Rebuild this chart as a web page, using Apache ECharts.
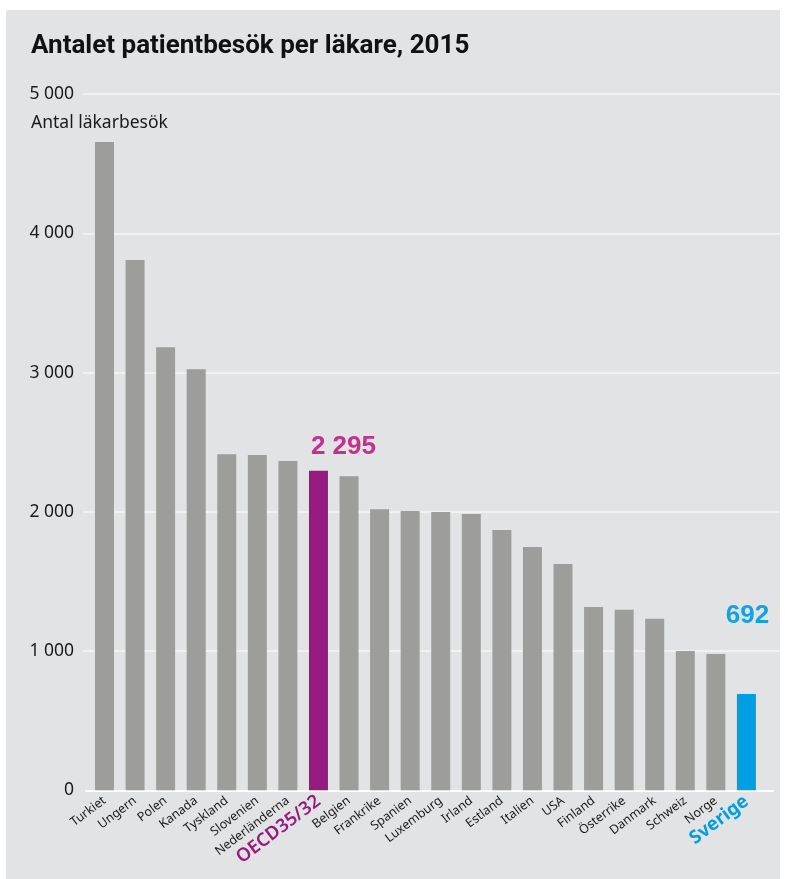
<!DOCTYPE html>
<html><head><meta charset="utf-8">
<script src="https://cdn.jsdelivr.net/npm/echarts@6/dist/echarts.min.js"></script>
<style>
html,body{margin:0;padding:0;background:#ffffff;width:785px;height:879px;overflow:hidden}
#c{position:absolute;left:6px;top:10px;width:774px;height:869px;}
</style>
</head><body><div id="c"></div>
<script>
const titleText = 'Antalet patientbesök per läkare, 2015';
const axisTitle = 'Antal läkarbesök';
const categories = ['Turkiet','Ungern','Polen','Kanada','Tyskland','Slovenien','Nederländerna','OECD35/32','Belgien','Frankrike','Spanien','Luxemburg','Irland','Estland','Italien','USA','Finland','Österrike','Danmark','Schweiz','Norge','Sverige'];
const values = [4655,3808,3182,3024,2414,2407,2364,2295,2256,2019,2005,1998,1984,1869,1747,1625,1317,1296,1231,1000,979,692];
const yTicks = [0,1000,2000,3000,4000,5000];
const yTickLabels = ['0','1 000','2 000','3 000','4 000','5 000'];
const oecdName = 'OECD35/32';
const swedenName = 'Sverige';
const valueLabels = {'OECD35/32':'2 295','Sverige':'692'};

const GRAY = '#9d9d9b', PURPLE = '#951b81', BLUE = '#009fe3';
const LBL_PURPLE = '#c4318d', LBL_BLUE = '#12a3e2';
const FONT = '"Noto Sans", sans-serif';

const chart = echarts.init(document.getElementById('c'), null, {renderer:'canvas'});
const gTop = 84, gBottom = 88.7;

const barData = values.map((v,i) => {
  const name = categories[i];
  const item = {value: v, name: name};
  if (name === oecdName) {
    item.itemStyle = {color: PURPLE};
    item.label = {show:true, position:'top', offset:[25,-6], formatter: valueLabels[name],
      color: LBL_PURPLE, fontSize: 26, fontWeight:'bold', fontFamily:'"Liberation Sans", sans-serif'};
  } else if (name === swedenName) {
    item.itemStyle = {color: BLUE};
    item.label = {show:true, position:'top', offset:[1,-60], formatter: valueLabels[name],
      color: LBL_BLUE, fontSize: 26, fontWeight:'bold', fontFamily:'"Liberation Sans", sans-serif'};
  }
  return item;
});

const option = {
  backgroundColor: '#e2e3e5',
  animation: false,
  title: [
    {text: titleText, left: 20, top: 18,
     textStyle:{fontFamily:'Roboto, sans-serif', fontWeight:'bold', fontSize:26, color:'#111'}},
    {text: axisTitle, left: 20, top: 99,
     textStyle:{fontFamily:FONT, fontWeight:'normal', fontSize:17.5, color:'#1a1a1a'}}
  ],
  grid: [
    {left: 77, right: 0, top: gTop, bottom: gBottom},
    {left: 83.2, width: 672.5, top: gTop, bottom: gBottom},
    {left: 80, width: 687, top: gTop, bottom: gBottom}
  ],
  xAxis: [
    {gridIndex:0, type:'value', min:0, max:1, show:false},
    {gridIndex:1, type:'category', data: categories,
     axisLine:{show:false}, axisTick:{show:false},
     axisLabel:{interval:0, rotate:37, margin:9, fontFamily:FONT, fontSize:12.5, color:'#1a1a1a',
       formatter: (n) => n === oecdName ? '{o|' + n + '}' : (n === swedenName ? '{s|' + n + '}' : n),
       rich:{
         o:{color:PURPLE, fontSize:18.5, fontWeight:600, fontFamily:FONT},
         s:{color:BLUE, fontSize:18.5, fontWeight:'bold', fontFamily:FONT}
       }}},
    {gridIndex:2, type:'value', min:0, max:1,
     axisLine:{show:true, lineStyle:{color:'#ffffff', width:2}},
     axisTick:{show:false}, axisLabel:{show:false}, splitLine:{show:false}}
  ],
  yAxis: [
    {gridIndex:0, type:'value', min:yTicks[0], max:yTicks[yTicks.length-1], interval:yTicks[1]-yTicks[0],
     axisLine:{show:false}, axisTick:{show:false},
     axisLabel:{margin:9, fontFamily:FONT, fontSize:17.5, color:'#1a1a1a',
       formatter:(v) => yTickLabels[yTicks.indexOf(v)]},
     splitLine:{show:true, showMinLine:false, lineStyle:{color:'#f6f6f6', width:1.5}}},
    {gridIndex:1, type:'value', min:0, max:5000, show:false},
    {gridIndex:2, type:'value', min:0, max:5000, show:false}
  ],
  series: [
    {type:'bar', xAxisIndex:1, yAxisIndex:1, data: barData, barWidth:19,
     itemStyle:{color: GRAY}}
  ]
};
chart.setOption(option);
</script>
</body></html>
